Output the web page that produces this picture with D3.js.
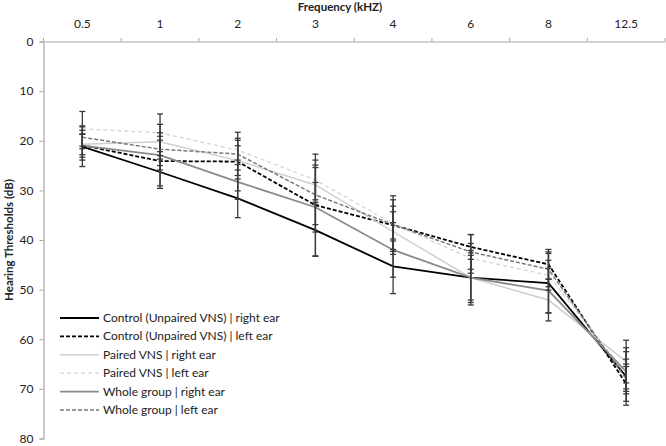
<!DOCTYPE html>
<html><head><meta charset="utf-8">
<script src="https://cdn.jsdelivr.net/npm/d3@7"></script>
<style>
body{margin:0;background:#fff;}
text{font-family:Lato,"Open Sans",sans-serif;}
</style></head>
<body><svg id="c" width="666" height="446"></svg>
<script>
const freqs = ["0.5","1","2","3","4","6","8","12.5"];
const yTicks = [0,10,20,30,40,50,60,70,80];

const controlRight = [21.2, 26.3, 31.6, 38.0, 45.3, 47.6, 48.7, 67.5];
const controlLeft  = [20.9, 24.1, 24.2, 33.0, 37.0, 41.4, 44.9, 69.0];
const pairedRight  = [20.7, 20.2, 24.0, 28.9, 38.3, 47.6, 52.1, 64.5];
const pairedLeft   = [17.6, 18.4, 21.9, 27.9, 36.7, 43.7, 47.1, 67.0];
const wholeRight   = [21.0, 22.9, 28.3, 33.4, 42.0, 47.6, 50.2, 66.5];
const wholeLeft    = [19.3, 21.7, 22.7, 30.9, 36.9, 42.4, 45.9, 68.0];

const controlRightErr = [4.0, 3.3, 3.9, 5.2, 5.5, 5.5, 6.0, 5.8];
const controlLeftErr  = [3.0, 5.0, 5.9, 10.3, 5.9, 2.5, 3.0, 3.5];
const pairedRightErr  = [2.1, 3.5, 3.0, 3.5, 4.0, 4.5, 4.2, 4.3];
const pairedLeftErr   = [3.5, 3.8, 2.0, 4.0, 3.5, 3.0, 3.0, 3.0];
const wholeRightErr   = [2.3, 3.0, 3.5, 5.0, 5.5, 5.0, 4.5, 4.0];
const wholeLeftErr    = [2.3, 3.3, 3.2, 6.0, 5.0, 3.5, 3.5, 3.0];

const seriesNames = [
  "Control (Unpaired VNS) | right ear",
  "Control (Unpaired VNS) | left ear",
  "Paired VNS | right ear",
  "Paired VNS | left ear",
  "Whole group | right ear",
  "Whole group | left ear"
];
const seriesValues = [controlRight, controlLeft, pairedRight, pairedLeft, wholeRight, wholeLeft];
const seriesErrors = [controlRightErr, controlLeftErr, pairedRightErr, pairedLeftErr, wholeRightErr, wholeLeftErr];
const styles = [
  {color:"#000000", width:1.8, dash:null},
  {color:"#000000", width:1.8, dash:"4,2"},
  {color:"#cfcfcf", width:1.5, dash:null},
  {color:"#d4d4d4", width:1.3, dash:"4,3"},
  {color:"#8a8a8a", width:1.8, dash:null},
  {color:"#7a7a7a", width:1.5, dash:"4,2"}
];

const svg = d3.select("#c");
const x = d3.scaleBand().domain(freqs).range([43.5, 665]);
const y = d3.scaleLinear().domain([0,80]).range([41.5, 438.5]);
const cx = f => x(f) + x.bandwidth()/2;

// Top axis
const xa = svg.append("g").attr("transform","translate(0,41.5)")
  .call(d3.axisTop(x).tickSize(0).tickPadding(14));
xa.select(".domain").attr("stroke","#a6a6a6").attr("stroke-width",1.2);
xa.selectAll("text").attr("font-size",12).attr("fill","#222");
const bounds = freqs.map(f => x(f)).concat([x.range()[1]]);
svg.append("g").selectAll("line").data(bounds).join("line")
  .attr("x1",d=>d).attr("x2",d=>d).attr("y1",41.5).attr("y2",38)
  .attr("stroke","#a6a6a6").attr("stroke-width",1);

// Left axis
const ya = svg.append("g").attr("transform","translate(43.5,0)")
  .call(d3.axisLeft(y).tickValues(yTicks).tickSize(4).tickPadding(6));
ya.select(".domain").attr("stroke","#a6a6a6").attr("stroke-width",1.2);
ya.selectAll(".tick line").attr("stroke","#a6a6a6");
ya.selectAll("text").attr("font-size",12).attr("fill","#222");

// Titles
svg.append("text").attr("x",340).attr("y",11).attr("text-anchor","middle")
  .attr("font-size",11.5).attr("font-weight","bold").attr("fill","#222").text("Frequency (kHZ)");
svg.append("text").attr("transform","translate(13,240) rotate(-90)").attr("text-anchor","middle")
  .attr("font-size",11.5).attr("font-weight","bold").attr("fill","#222").text("Hearing Thresholds (dB)");

// Lines
const line = d3.line().x((d,i)=>cx(freqs[i])).y(d=>y(d));
seriesValues.forEach((vals,k)=>{
  const s = styles[k];
  svg.append("path").datum(vals).attr("d",line).attr("fill","none")
    .attr("stroke",s.color).attr("stroke-width",s.width)
    .attr("stroke-dasharray",s.dash);
});

// Error bars
const eb = svg.append("g").attr("stroke","#3a3a3a").attr("stroke-width",1.3);
seriesValues.forEach((vals,k)=>{
  vals.forEach((v,i)=>{
    const e = seriesErrors[k][i], xc = cx(freqs[i]);
    eb.append("line").attr("x1",xc).attr("x2",xc).attr("y1",y(v-e)).attr("y2",y(v+e));
    eb.append("line").attr("x1",xc-3).attr("x2",xc+3).attr("y1",y(v-e)).attr("y2",y(v-e));
    eb.append("line").attr("x1",xc-3).attr("x2",xc+3).attr("y1",y(v+e)).attr("y2",y(v+e));
  });
});

// Legend
const lg = svg.append("g");
seriesNames.forEach((n,k)=>{
  const yy = 318 + k*18.4, s = styles[k];
  lg.append("line").attr("x1",60).attr("x2",99).attr("y1",yy).attr("y2",yy)
    .attr("stroke",s.color).attr("stroke-width",s.width).attr("stroke-dasharray",s.dash);
  lg.append("text").attr("x",103).attr("y",yy+4).attr("font-size",12).attr("fill","#222").text(n);
});
</script></body></html>
